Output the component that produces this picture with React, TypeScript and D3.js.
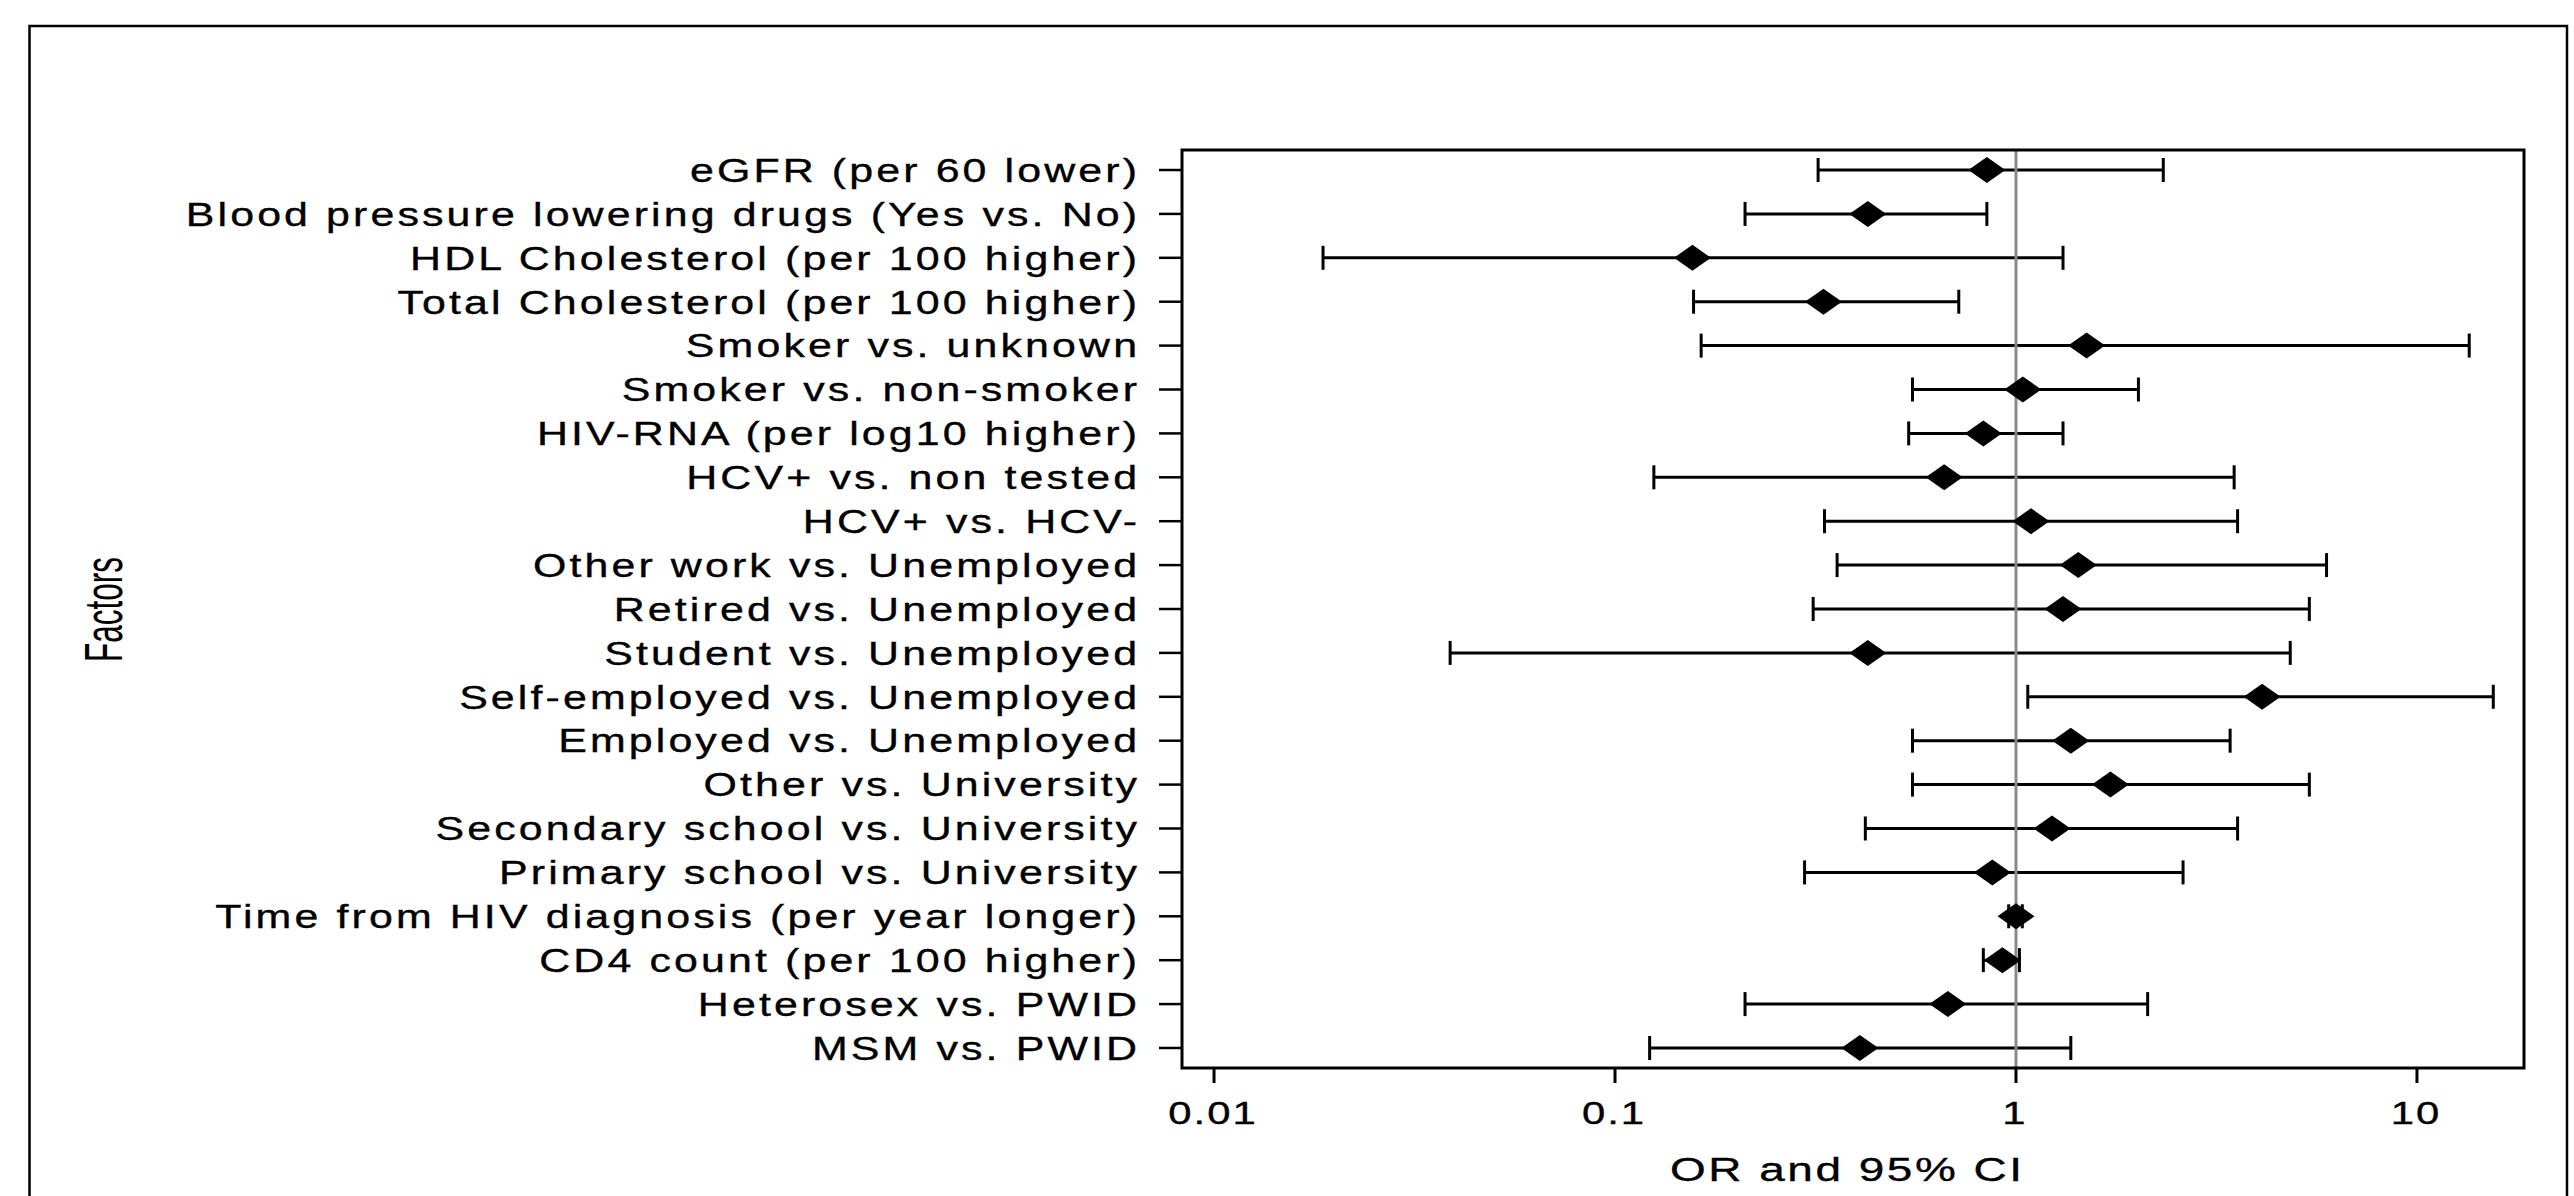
import React from "react";
import * as d3 from "d3";

const factors = [
  "eGFR (per 60 lower)",
  "Blood pressure lowering drugs (Yes vs. No)",
  "HDL Cholesterol (per 100 higher)",
  "Total Cholesterol (per 100 higher)",
  "Smoker vs. unknown",
  "Smoker vs. non-smoker",
  "HIV-RNA (per log10 higher)",
  "HCV+ vs. non tested",
  "HCV+ vs. HCV-",
  "Other work vs. Unemployed",
  "Retired vs. Unemployed",
  "Student vs. Unemployed",
  "Self-employed vs. Unemployed",
  "Employed vs. Unemployed",
  "Other vs. University",
  "Secondary school vs. University",
  "Primary school vs. University",
  "Time from HIV diagnosis (per year longer)",
  "CD4 count (per 100 higher)",
  "Heterosex vs. PWID",
  "MSM vs. PWID",
];

const oddsRatio = [
  0.846, 0.427, 0.156, 0.331, 1.5, 1.04, 0.829, 0.662, 1.09, 1.43, 1.31,
  0.427, 4.11, 1.37, 1.72, 1.23, 0.873, 1.0, 0.925, 0.676, 0.408,
];
const ciLower = [
  0.321, 0.211, 0.0187, 0.157, 0.164, 0.552, 0.54, 0.125, 0.333, 0.358, 0.312,
  0.0388, 1.07, 0.552, 0.552, 0.421, 0.297, 0.959, 0.829, 0.211, 0.122,
];
const ciUpper = [
  2.33, 0.846, 1.31, 0.72, 13.5, 2.02, 1.31, 3.5, 3.57, 5.95, 5.39, 4.83,
  15.5, 3.42, 5.39, 3.57, 2.61, 1.037, 1.02, 2.13, 1.37,
];

const xTickValues = [0.01, 0.1, 1, 10];
const xTickLabels = ["0.01", "0.1", "1", "10"];
const xDomain = [0.00832, 18.49];

const xTitle = "OR and 95% CI";
const yTitle = "Factors";

const FONT = "'Liberation Sans', Arial, Helvetica, sans-serif";

type STextProps = {
  x: number;
  y: number;
  anchor: "start" | "middle" | "end";
  size: number;
  ls: number;
  sx: number;
  children: React.ReactNode;
};

function SText({ x, y, anchor, size, ls, sx, children }: STextProps) {
  const dx = anchor === "end" ? ls : anchor === "middle" ? ls / 2 : 0;
  return (
    <text
      transform={`translate(${x},${y}) scale(${sx},1)`}
      textAnchor={anchor}
      fontSize={size}
      fontFamily={FONT}
      letterSpacing={ls}
      dx={dx}
      fill="#000"
      stroke="#000"
      strokeWidth={0.35}
    >
      {children}
    </text>
  );
}

export default function App() {
  const W = 2574;
  const H = 1196;
  const plot = { left: 1182, right: 2524, top: 150, bottom: 1068 };

  const x = d3.scaleLog().domain(xDomain).range([plot.left, plot.right]);
  const y = d3
    .scalePoint<string>()
    .domain(factors)
    .range([plot.top, plot.bottom])
    .padding(0.456);

  const rows = factors.map((f, i) => ({
    f,
    or: oddsRatio[i],
    lo: ciLower[i],
    hi: ciUpper[i],
  }));

  const capH = 12;
  const dW = 18.5;
  const dH = 13;

  return (
    <svg
      width={W}
      height={H}
      style={{ position: "absolute", left: 0, top: 0, display: "block", background: "#fff" }}
    >
      <rect x={0} y={0} width={W} height={H} fill="#fff" />
      {/* outer frame */}
      <rect
        x={29.5}
        y={26}
        width={2537.5}
        height={1300}
        fill="none"
        stroke="#000"
        strokeWidth={2.5}
      />

      {/* y-axis ticks and labels */}
      {rows.map((r) => {
        const yy = y(r.f) as number;
        return (
          <g key={"yl" + r.f}>
            <line x1={1159} x2={plot.left} y1={yy} y2={yy} stroke="#000" strokeWidth={2.5} />
            <SText x={1137} y={yy + 11.8} anchor="end" size={33} ls={2.4} sx={1.3}>
              {r.f}
            </SText>
          </g>
        );
      })}

      {/* error bars */}
      {rows.map((r) => {
        const yy = y(r.f) as number;
        const x0 = x(r.lo);
        const x1 = x(r.hi);
        return (
          <g key={"eb" + r.f} stroke="#000" strokeWidth={3}>
            <line x1={x0} x2={x1} y1={yy} y2={yy} />
            <line x1={x0} x2={x0} y1={yy - capH} y2={yy + capH} />
            <line x1={x1} x2={x1} y1={yy - capH} y2={yy + capH} />
          </g>
        );
      })}

      {/* reference line at OR = 1 */}
      <line
        x1={x(1)}
        x2={x(1)}
        y1={plot.top}
        y2={plot.bottom}
        stroke="#8a8a8a"
        strokeWidth={3}
      />

      {/* diamonds */}
      {rows.map((r) => {
        const yy = y(r.f) as number;
        const xx = x(r.or);
        const p = d3.path();
        p.moveTo(xx - dW, yy);
        p.lineTo(xx, yy - dH);
        p.lineTo(xx + dW, yy);
        p.lineTo(xx, yy + dH);
        p.closePath();
        return <path key={"d" + r.f} d={p.toString()} fill="#000" />;
      })}

      {/* plot frame */}
      <rect
        x={plot.left}
        y={plot.top}
        width={plot.right - plot.left}
        height={plot.bottom - plot.top}
        fill="none"
        stroke="#000"
        strokeWidth={3}
      />

      {/* x-axis ticks & labels */}
      {xTickValues.map((v, i) => (
        <g key={"xt" + v}>
          <line x1={x(v)} x2={x(v)} y1={plot.bottom} y2={plot.bottom + 15} stroke="#000" strokeWidth={3} />
          <SText x={x(v) - 2} y={1124} anchor="middle" size={31} ls={1.5} sx={1.35}>
            {xTickLabels[i]}
          </SText>
        </g>
      ))}

      {/* axis titles */}
      <SText x={1846} y={1181} anchor="middle" size={34} ls={1.9} sx={1.35}>
        {xTitle}
      </SText>
      <text
        transform={`translate(122,609.5) rotate(-90) scale(1,1.73)`}
        textAnchor="middle"
        fontSize={31.5}
        fontFamily={FONT}
        fill="#000"
      >
        {yTitle}
      </text>
    </svg>
  );
}
